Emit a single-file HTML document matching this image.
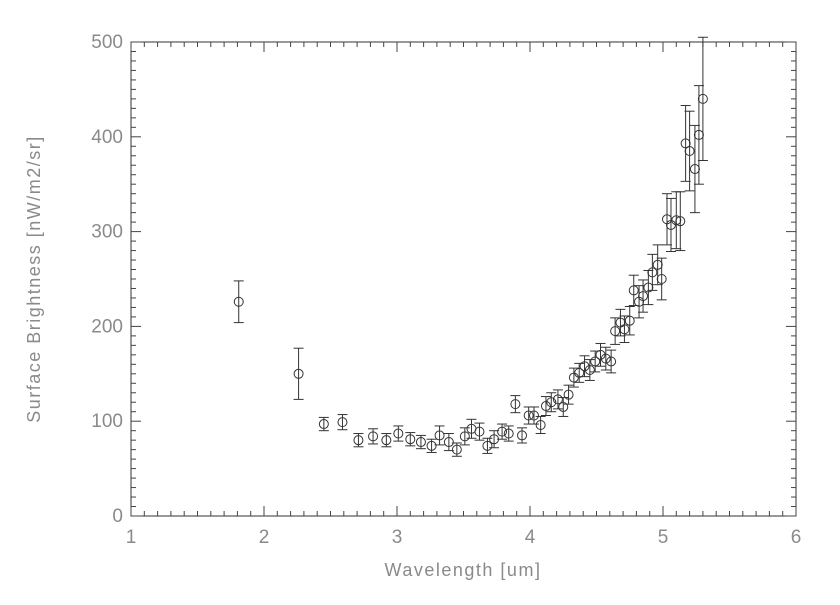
<!DOCTYPE html>
<html><head><style>body{margin:0;background:#fff}svg text{font-family:"Liberation Sans",sans-serif;fill:#8a8a8a}</style></head>
<body><svg id="s" width="840" height="600" xmlns="http://www.w3.org/2000/svg"></svg>
<script>
const s=document.getElementById('s');let h='';
const X=w=>131+(w-1)*133, Y=v=>516-v*0.948;
h+='<rect x="131" y="42" width="665" height="474" fill="none" stroke="#333" stroke-width="1"/>';
for(let i=0;i<=50;i++){const x=X(1+i*0.1);const L=i%10==0?10:5;
h+=`<line x1="${x}" y1="516" x2="${x}" y2="${516-L}" stroke="#444"/><line x1="${x}" y1="42" x2="${x}" y2="${42+L}" stroke="#444"/>`;}
for(let i=0;i<=50;i++){const y=Y(i*10);const L=i%10==0?10:5;
h+=`<line x1="131" y1="${y}" x2="${131+L}" y2="${y}" stroke="#444"/><line x1="796" y1="${y}" x2="${796-L}" y2="${y}" stroke="#444"/>`;}
for(let w=1;w<=6;w++)h+=`<text x="${X(w)}" y="543" font-size="19" text-anchor="middle">${w}</text>`;
for(let v=0;v<=500;v+=100)h+=`<text x="123" y="${Y(v)+6}" font-size="19" text-anchor="end">${v}</text>`;
h+=`<text x="463" y="576" font-size="18" text-anchor="middle" letter-spacing="1.5">Wavelength [um]</text>`;
h+=`<text transform="translate(40,279) rotate(-90)" font-size="18" text-anchor="middle" letter-spacing="1.5">Surface Brightness [nW/m2/sr]</text>`;
const d=[[1.81,226,22],[2.26,150,27],[2.45,97,7],[2.59,99,8],[2.71,80,7],[2.82,84,8],[2.92,80,7],[3.01,87,8],[3.10,81,7],[3.18,78,7],[3.26,74,7],[3.32,85,10],[3.39,78,9],[3.45,70,7],[3.51,84,9],[3.56,92,10],[3.62,89,9],[3.68,74,8],[3.73,81,9],[3.79,89,8],[3.84,87,8],[3.89,118,9],[3.94,85,8],[3.99,106,9],[4.03,106,9],[4.08,96,9],[4.12,116,10],[4.16,120,10],[4.21,123,10],[4.25,115,10],[4.29,128,10],[4.33,146,10],[4.37,151,10],[4.41,158,11],[4.45,154,11],[4.49,163,11],[4.53,170,12],[4.57,166,12],[4.61,163,12],[4.64,195,14],[4.68,204,14],[4.71,197,14],[4.75,206,15],[4.78,238,16],[4.82,226,17],[4.85,232,17],[4.89,241,18],[4.92,257,19],[4.96,265,21],[4.99,250,22],[5.03,313,27],[5.06,307,28],[5.10,312,30],[5.13,311,31],[5.17,393,40],[5.20,385,42],[5.24,366,46],[5.27,402,52],[5.30,440,65]];
for(const [w,v,e] of d){const x=X(w),y=Y(v),y1=Y(v+e),y2=Y(v-e);
h+=`<line x1="${x}" y1="${y1}" x2="${x}" y2="${y2}" stroke="#333"/><line x1="${x-5}" y1="${y1}" x2="${x+5}" y2="${y1}" stroke="#333"/><line x1="${x-5}" y1="${y2}" x2="${x+5}" y2="${y2}" stroke="#333"/><circle cx="${x}" cy="${y}" r="4.5" fill="none" stroke="#333"/>`;}
s.innerHTML=h;
</script></body></html>
